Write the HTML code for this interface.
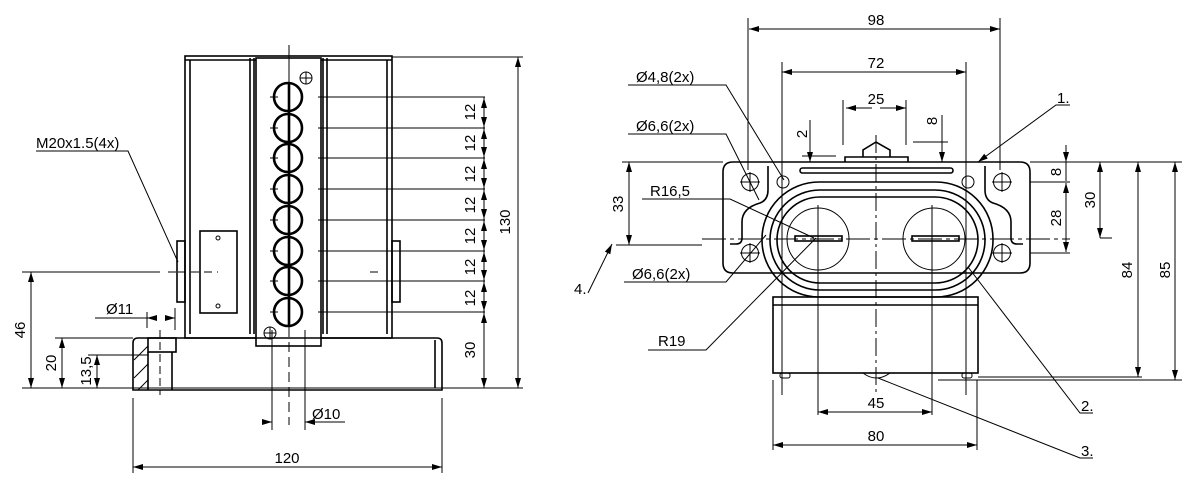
<!DOCTYPE html>
<html><head><meta charset="utf-8"><style>
html,body{margin:0;padding:0;background:#fff}
svg{display:block}
text{font-family:"Liberation Sans",sans-serif;font-size:15px;fill:#000}
</style></head><body>
<svg width="1200" height="490" viewBox="0 0 1200 490" xmlns="http://www.w3.org/2000/svg">
<defs>
<marker id="a" viewBox="0 0 10 6" refX="10" refY="3" markerWidth="10" markerHeight="6" markerUnits="userSpaceOnUse" orient="auto-start-reverse"><path d="M0,0L10,3L0,6z" fill="#000"/></marker>
</defs>
<g fill="none" stroke="#000" stroke-width="1">
<g stroke-width="1.6">
<rect x="185" y="56" width="207" height="282"/>
<line x1="190" y1="60" x2="190" y2="334"/><line x1="387" y1="60" x2="387" y2="334"/>
<line x1="250" y1="58" x2="250" y2="334"/><line x1="254" y1="58" x2="254" y2="334"/>
<line x1="323" y1="58" x2="323" y2="334"/><line x1="327" y1="58" x2="327" y2="334"/>
<line x1="185" y1="60" x2="392" y2="60"/>
<rect x="256" y="58" width="65" height="288" fill="#fff"/>
<path d="M138,338 H437 Q442,338 442,343 V390 H133 V343 Q133,338 138,338 Z"/>
<line x1="435" y1="340" x2="435" y2="388"/>
<rect x="148" y="338" width="28" height="14"/>
<line x1="148" y1="352" x2="148" y2="390"/><line x1="172" y1="352" x2="172" y2="390"/>
<rect x="177" y="241" width="8" height="61"/><rect x="392" y="241" width="8" height="61"/>
<rect x="200" y="231" width="37" height="82"/>
</g>
<path d="M134,360 L148,346 M134,378 L148,364 M138,390 L148,380" />
<circle cx="218" cy="238" r="2"/><circle cx="218" cy="306" r="2"/>
<circle cx="306" cy="78" r="6"/><path d="M300,78h12M306,72v12"/>
<circle cx="270" cy="333" r="6"/><path d="M264,333h12M270,327v12"/>
<g stroke-width="2.6">
<circle cx="288" cy="97" r="14"/><circle cx="288" cy="128" r="14"/><circle cx="288" cy="158" r="14"/><circle cx="288" cy="189" r="14"/>
<circle cx="288" cy="220" r="14"/><circle cx="288" cy="251" r="14"/><circle cx="288" cy="281" r="14"/><circle cx="288" cy="312" r="14"/>
<line x1="289" y1="82" x2="289" y2="327"/>
</g>
<line x1="289" y1="45" x2="289" y2="82"/>
<line x1="289" y1="327" x2="289" y2="425" stroke-dasharray="10,5"/>
<line x1="272" y1="330" x2="272" y2="430"/><line x1="305" y1="330" x2="305" y2="430"/>
<path d="M318,97H485M318,128H485M318,158H485M318,189H485M318,220H485M318,251H485M318,281H485M318,312H485"/>
<path d="M270,97h8M270,128h8M270,158h8M270,189h8M270,220h8M270,251h8M270,281h8M270,312h8"/>
<line x1="484" y1="97" x2="484" y2="388"/>
<g marker-start="url(#a)" marker-end="url(#a)">
<line x1="484" y1="98" x2="484" y2="127"/><line x1="484" y1="129" x2="484" y2="157"/><line x1="484" y1="159" x2="484" y2="188"/>
<line x1="484" y1="190" x2="484" y2="219"/><line x1="484" y1="221" x2="484" y2="250"/><line x1="484" y1="252" x2="484" y2="280"/>
<line x1="484" y1="282" x2="484" y2="311"/><line x1="484" y1="313" x2="484" y2="388"/>
<line x1="518" y1="57" x2="518" y2="388"/>
<line x1="31" y1="272" x2="31" y2="388"/><line x1="62" y1="338" x2="62" y2="388"/><line x1="97" y1="355" x2="97" y2="388"/>
<line x1="133" y1="467" x2="442" y2="467"/>
</g>
<path d="M392,57H523M22,388H523M22,272H160M55,338H133M88,355H148"/>
<path d="M168,272h12M370,272h12M178,272h40" stroke-dasharray="8,5"/>
<path d="M133,398V473M442,398V473"/>
<path d="M147,312V328M175,308V330"/>
<line x1="95" y1="318" x2="147" y2="318"/>
<line x1="155" y1="318" x2="147" y2="318" marker-end="url(#a)"/><line x1="167" y1="318" x2="175" y2="318" marker-end="url(#a)"/>
<line x1="160" y1="330" x2="160" y2="395" stroke-dasharray="8,4"/>
<line x1="262" y1="422" x2="272" y2="422" marker-end="url(#a)"/><line x1="320" y1="422" x2="305" y2="422" marker-end="url(#a)"/>
<line x1="305" y1="422" x2="345" y2="422"/>
<path d="M36,151H128L178,262"/>

<g stroke-width="1.6">
<path d="M733,162 H1020 Q1030,162 1030,172 V263 Q1030,273 1020,273 H733 Q723,273 723,263 V172 Q723,162 733,162 Z"/>
<path d="M768,166 V190 Q768,200 760,203 Q742,208 742,222 V238 Q742,244 736,244 H730 M985,166 V190 Q985,200 993,203 Q1011,208 1011,222 V238 Q1011,244 1017,244 H1023"/>
<rect x="762" y="182" width="231" height="115" rx="57"/>
<rect x="770" y="190" width="215" height="100" rx="50"/>
<rect x="777" y="197" width="201" height="86" rx="43"/>
<rect x="773" y="297" width="205" height="76"/>
<line x1="773" y1="305" x2="978" y2="305"/>
<rect x="800" y="168" width="153" height="5" rx="2.5"/>
<path d="M845,162V157H908V162M863,157V150L876,142L890,150V157"/>
<rect x="795" y="236" width="47" height="5"/><rect x="912" y="236" width="47" height="5"/>
</g>
<ellipse cx="818" cy="239" rx="31" ry="31"/><ellipse cx="934" cy="239" rx="31" ry="31"/>
<g>
<circle cx="750" cy="182" r="8.5"/><circle cx="1002" cy="182" r="8.5"/><circle cx="750" cy="253" r="8.5"/><circle cx="1002" cy="253" r="8.5"/>
<circle cx="783" cy="182" r="6"/><circle cx="968" cy="182" r="6"/>
<path d="M740,182h20M750,172v20M992,182h20M1002,172v20M740,253h20M750,243v20M992,253h20M1002,243v20"/>
</g>
<rect x="780" y="373" width="10" height="5" rx="2"/><rect x="962" y="373" width="10" height="5" rx="2"/>
<path d="M863,373 Q876,383 890,373Z"/>
<line x1="876" y1="135" x2="876" y2="395" stroke-dasharray="18,4,3,4"/>
<path d="M818,205V415M932,205V415M782,62V395M966,62V395M748,18V170M1000,18V170M843,100V145M906,100V145M773,380V450M977,380V450"/>
<path d="M702,239H1070" stroke-dasharray="24,4,4,4"/>
<path d="M616,245H702M622,162H723M1030,162H1182M1030,182H1070M1030,253H1070M1100,238H1112M938,380H1182M978,377H1142M802,156H836M913,142H948"/>
<g marker-start="url(#a)" marker-end="url(#a)">
<line x1="749" y1="29" x2="1000" y2="29"/><line x1="782" y1="72" x2="966" y2="72"/>
<line x1="818" y1="412" x2="932" y2="412"/><line x1="773" y1="445" x2="977" y2="445"/>
<line x1="629" y1="162" x2="629" y2="245"/>
<line x1="1100" y1="162" x2="1100" y2="238"/>
<line x1="1138" y1="162" x2="1138" y2="377"/><line x1="1175" y1="162" x2="1175" y2="380"/>
<line x1="1066" y1="183" x2="1066" y2="252"/>
</g>
<line x1="1066" y1="145" x2="1066" y2="162" marker-end="url(#a)"/><line x1="1066" y1="162" x2="1066" y2="181"/>
<line x1="846" y1="108" x2="872" y2="108" marker-start="url(#a)"/><line x1="906" y1="108" x2="880" y2="108" marker-start="url(#a)"/>
<line x1="810" y1="120" x2="810" y2="162" marker-end="url(#a)"/>
<line x1="942" y1="115" x2="942" y2="162" marker-end="url(#a)"/>
<path d="M628,85H726L784,180"/>
<path d="M628,134H726L759,200"/>
<path d="M642,199H730L814,238"/>
<path d="M624,282H726L766,235"/>
<path d="M648,350H706L816,238"/>
<path d="M588,293L612,244" marker-end="url(#a)"/>
<path d="M1070,105H1056L978,162" marker-end="url(#a)"/>
<path d="M1093,413H1080L968,267"/>
<path d="M1093,458H1080L878,378"/>
</g>
<text x="36" y="148">M20x1.5(4x)</text>
<text x="106" y="314">Ø11</text>
<text x="312" y="419">Ø10</text>
<text x="287" y="463" text-anchor="middle">120</text>
<g text-anchor="middle">
<text transform="translate(475,112) rotate(-90)">12</text>
<text transform="translate(475,143) rotate(-90)">12</text>
<text transform="translate(475,174) rotate(-90)">12</text>
<text transform="translate(475,205) rotate(-90)">12</text>
<text transform="translate(475,236) rotate(-90)">12</text>
<text transform="translate(475,267) rotate(-90)">12</text>
<text transform="translate(475,298) rotate(-90)">12</text>
<text transform="translate(475,350) rotate(-90)">30</text>
<text transform="translate(510,222) rotate(-90)">130</text>
<text transform="translate(25,330) rotate(-90)">46</text>
<text transform="translate(56,363) rotate(-90)">20</text>
<text transform="translate(91,371) rotate(-90)">13,5</text>
<text transform="translate(623,204) rotate(-90)">33</text>
<text transform="translate(807,134) rotate(-90)">2</text>
<text transform="translate(937,121) rotate(-90)">8</text>
<text transform="translate(1061,172) rotate(-90)">8</text>
<text transform="translate(1061,218) rotate(-90)">28</text>
<text transform="translate(1095,200) rotate(-90)">30</text>
<text transform="translate(1132,270) rotate(-90)">84</text>
<text transform="translate(1170,270) rotate(-90)">85</text>
<text x="876" y="25">98</text>
<text x="876" y="68">72</text>
<text x="876" y="104">25</text>
<text x="876" y="408">45</text>
<text x="876" y="441">80</text>
</g>
<text x="636" y="82">Ø4,8(2x)</text>
<text x="636" y="131">Ø6,6(2x)</text>
<text x="650" y="196">R16,5</text>
<text x="632" y="279">Ø6,6(2x)</text>
<text x="658" y="346">R19</text>
<text x="574" y="294">4.</text>
<text x="1057" y="103">1.</text>
<text x="1081" y="411">2.</text>
<text x="1081" y="456">3.</text>
</svg>
</body></html>
